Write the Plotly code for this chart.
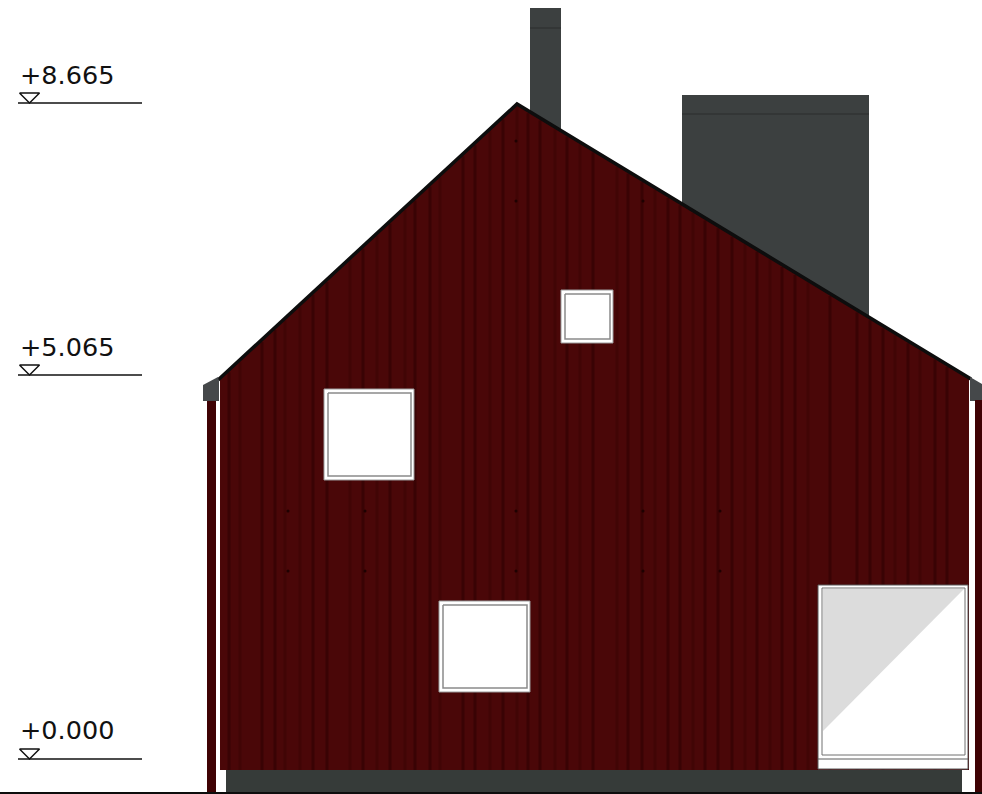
import numpy as np
import plotly.graph_objects as go

W, H = 982, 794

# level markers
level_labels = ["+8.665", "+5.065", "+0.000"]
level_y = [103, 375, 759]
level_text_y = [78, 350, 733]

# outlines
roof_x = [218, 517, 971]
roof_y = [380, 104, 379]
wall_left, wall_right, wall_bottom = 220, 969, 770
plank_x = [229, 240, 262, 275, 285, 300, 313, 327, 350, 363, 377, 390, 405, 415, 430, 440,
           463, 475, 490, 503, 517, 528, 540, 555, 567, 580, 593, 617, 628, 642, 655, 668,
           680, 693, 705, 718, 732, 745, 757, 770, 782, 795, 808, 830, 857, 870, 883, 895,
           908, 920, 935, 947]
plank_strength = [1, 0, 1, 1, 0, 0, 1, 1, 0, 1, 0, 1, 0, 1, 1, 0,
                  1, 1, 0, 1, 0, 1, 1, 0, 1, 0, 1, 0, 1, 1, 0, 1,
                  1, 0, 1, 1, 1, 0, 1, 0, 1, 1, 0, 1, 1, 1, 1, 0,
                  1, 0, 1, 1]
nail_x = [288, 365, 516, 643, 720]
nail_y = [141, 201, 511, 571]

chimney_x0 = [530, 682]
chimney_x1 = [561, 869]
chimney_top = [8, 95]
chimney_bottom = [135, 325]
chimney_band = [28, 114]

win_x0 = [324, 561, 439]
win_x1 = [414, 613, 530]
win_y0 = [389, 290, 601]
win_y1 = [480, 343, 692]

door_outer = [818, 968, 585, 769]
door_inner = [822, 965, 588, 755]
door_rail_y = 759
glass_x = [823, 964, 823]
glass_y = [589, 589, 731]

eave_left_x = [203, 218, 219, 219, 203]
eave_left_y = [385, 377, 381, 401, 401]
eave_right_x = [970, 982, 982, 970]
eave_right_y = [377, 384, 401, 401]
post_left = [207, 216, 401, 793]
post_right = [975, 982, 400, 793]
footing = [226, 962, 770, 793]

RED, PLANK, PLANK2, NAIL = "#4a0708", "#320203", "#3e0405", "#1e0101"
DARK, LINE, BLACK = "#3c4040", "#2a2c2c", "#0d0d0d"
FOOT = "#363b39"

fig = go.Figure()


def poly(xs, ys, fill, line=None, width=0):
    fig.add_trace(go.Scatter(x=list(xs) + [xs[0]], y=list(ys) + [ys[0]], mode="lines", fill="toself",
                             fillcolor=fill, line=dict(color=line or fill, width=width if line else 0),
                             hoverinfo="skip", showlegend=False))


def rect(x0, x1, y0, y1, fill, line=None, width=0):
    poly([x0, x1, x1, x0], [y0, y0, y1, y1], fill, line, width)


def path(xs, ys, color, width):
    fig.add_trace(go.Scatter(x=xs, y=ys, mode="lines", line=dict(color=color, width=width),
                             hoverinfo="skip", showlegend=False))


# chimneys
for x0, x1, t, b, s in zip(chimney_x0, chimney_x1, chimney_top, chimney_bottom, chimney_band):
    rect(x0, x1, t, b, DARK)
    path([x0, x1], [s, s], LINE, 1)

# wall
wall_xs = [wall_left, wall_left, roof_x[1], wall_right, wall_right]
wall_ys = [wall_bottom, float(np.interp(wall_left, roof_x, roof_y)), roof_y[1],
           float(np.interp(wall_right, roof_x, roof_y)), wall_bottom]
poly(wall_xs, wall_ys, RED)


def planks(which, color, width):
    xs, ys = [], []
    for x, s in zip(plank_x, plank_strength):
        if s == which:
            xs += [x, x, None]
            ys += [float(np.interp(x, roof_x, roof_y)) + 2.5, wall_bottom, None]
    path(xs, ys, color, width)


planks(1, "rgba(30,0,0,0.18)", 4)
planks(0, "rgba(30,0,0,0.10)", 4)
planks(0, PLANK2, 1)
planks(1, PLANK, 1)

# nails
nx, ny = [], []
for x in nail_x:
    for y in nail_y:
        if y > np.interp(x, roof_x, roof_y) + 8:
            nx.append(x)
            ny.append(y)
fig.add_trace(go.Scatter(x=nx, y=ny, mode="markers", marker=dict(color=NAIL, size=3),
                         hoverinfo="skip", showlegend=False))

# roof edge
path(roof_x, roof_y, BLACK, 3.5)

# eaves and posts
poly(eave_left_x, eave_left_y, "#45484a")
poly(eave_right_x, eave_right_y, "#45484a")
rect(post_left[0], post_left[1], post_left[2], post_left[3], "#3f0204")
rect(post_right[0], post_right[1], post_right[2], post_right[3], "#3f0204")

# footing
rect(footing[0], footing[1], footing[2], footing[3], FOOT)

# windows
for x0, x1, y0, y1 in zip(win_x0, win_x1, win_y0, win_y1):
    rect(x0, x1, y0, y1, "#ffffff", "#9a9a9a", 1)
    rect(x0 + 4, x1 - 3, y0 + 4, y1 - 4, "#ffffff", "#8a8a8a", 1.5)

# door
rect(door_outer[0], door_outer[1], door_outer[2], door_outer[3], "#ffffff", "#5a5a5a", 1)
poly(glass_x, glass_y, "#dcdcdc")
rect(door_inner[0], door_inner[1], door_inner[2], door_inner[3], "rgba(0,0,0,0)", "#707070", 1)
path([door_outer[0], door_outer[1]], [door_rail_y, door_rail_y], "#5a5a5a", 1)

# ground line
path([0, W], [793, 793], BLACK, 2)

# level markers
for y in level_y:
    path([18, 142], [y, y], "#111111", 1.5)
    path([19.5, 39.5, 29.5, 19.5], [y - 10, y - 10, y, y - 10], "#111111", 1.5)
fig.add_trace(go.Scatter(x=[20, 20, 20], y=level_text_y, mode="text", text=level_labels,
                         textposition="middle right",
                         textfont=dict(family="DejaVu Sans", size=25.5, color="#111111"),
                         hoverinfo="skip", showlegend=False))

fig.update_layout(width=W, height=H, margin=dict(l=0, r=0, t=0, b=0),
                  paper_bgcolor="white", plot_bgcolor="white", showlegend=False,
                  xaxis=dict(range=[0, W], visible=False, fixedrange=True),
                  yaxis=dict(range=[H, 0], visible=False, fixedrange=True))
fig.write_html("out.html", config={"displayModeBar": False},
               post_script="document.body.style.margin='0';")
